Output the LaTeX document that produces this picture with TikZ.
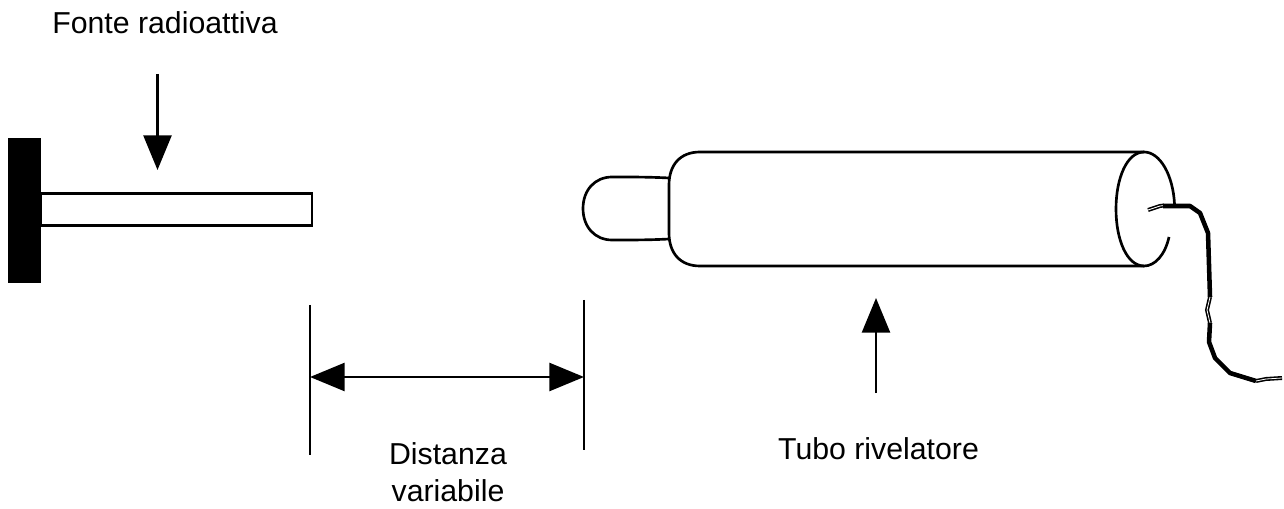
\documentclass[tikz,border=0pt]{standalone}
\usepackage{fontspec}
\setmainfont{Liberation Sans}
\usetikzlibrary{arrows.meta}
\tikzset{
  ln/.style={line width=1.9pt,black},
  tube/.style={line width=2pt,black,line join=round},
  bigarrow/.style={ln,-{Triangle[length=26pt,width=21pt]}},
  dimarrow/.style={ln,{Triangle[length=26pt,width=21pt]}-{Triangle[length=26pt,width=21pt]}},
  lab/.style={font=\fontsize{22.7pt}{27.3pt}\selectfont,align=center,inner sep=0pt,text=black},
  wirethick/.style={line width=3.4pt,black,line join=round},
  wiredouble/.style={line width=1.2pt,double=white,double distance=.6pt,black}
}
\begin{document}
\begin{tikzpicture}[x=0.75pt,y=-0.75pt]
\useasboundingbox (0,0) rectangle (1284,509);
\node[lab] (fonte) at (165,23) {Fonte radioattiva};
\node[lab] (dist) at (448,472) {Distanza\\variabile};
\node[lab] (tubo) at (878.5,449) {Tubo rivelatore};
% source
\node[draw,ln,minimum width=203pt,minimum height=24pt,inner sep=0pt] (bar) at (176.5,209.5) {};
\node[fill=black,minimum width=24.75pt,minimum height=108.75pt,inner sep=0pt] (block) at (24.5,210.5) {};
\coordinate (a1s) at (157.5,74);
\coordinate (a1e) at (157.5,170);
\draw[bigarrow] (a1s) -- (a1e);
% dimension
\coordinate (l1) at (310,305); \coordinate (l2) at (310,455);
\coordinate (r1) at (584,300); \coordinate (r2) at (584,450);
\coordinate (dl) at (310,377); \coordinate (dr) at (584,377);
\draw[ln] (l1) -- (l2);
\draw[ln] (r1) -- (r2);
\draw[dimarrow] (dl) -- (dr);
% tube
\draw[tube] (669,178) .. controls (650,177) and (635,177) .. (612,177) .. controls (595,177) and (583,190) .. (583,208.5) .. controls (583,227) and (595,240) .. (612,240) .. controls (635,240) and (650,240) .. (669,239);
\draw[tube] (1144,152) -- (700,152) .. controls (680,152) and (669,165) .. (669,185) -- (669,233) .. controls (669,253) and (680,266) .. (700,266) -- (1144,266);
\draw[tube] (1174.5,204) .. controls (1173,175) and (1160,152) .. (1144,152) .. controls (1127,152) and (1116,178) .. (1116,209) .. controls (1116,240) and (1127,266) .. (1144,266) .. controls (1155,266) and (1165,255) .. (1169,237);
% wire
\coordinate (w0) at (1148,210);
\coordinate (w1) at (1160,206);
\draw[wiredouble] (w0) -- (w1) -- ++(4,-.5);
\draw[wirethick] (1163,206) -- (1190,206) -- (1200,213) -- (1208,233) -- (1210,297);
\draw[wiredouble] (1210,297) -- (1207,310) -- (1210,323);
\draw[wirethick] (1210,323) -- (1209,342) -- (1215,358) -- (1230,373) -- (1256,381);
\draw[wiredouble] (1256,381) -- (1266,379) -- (1282,378);
% detector arrow
\coordinate (a2s) at (876,393);
\coordinate (a2e) at (876,298);
\draw[bigarrow] (a2s) -- (a2e);
\end{tikzpicture}
\end{document}
